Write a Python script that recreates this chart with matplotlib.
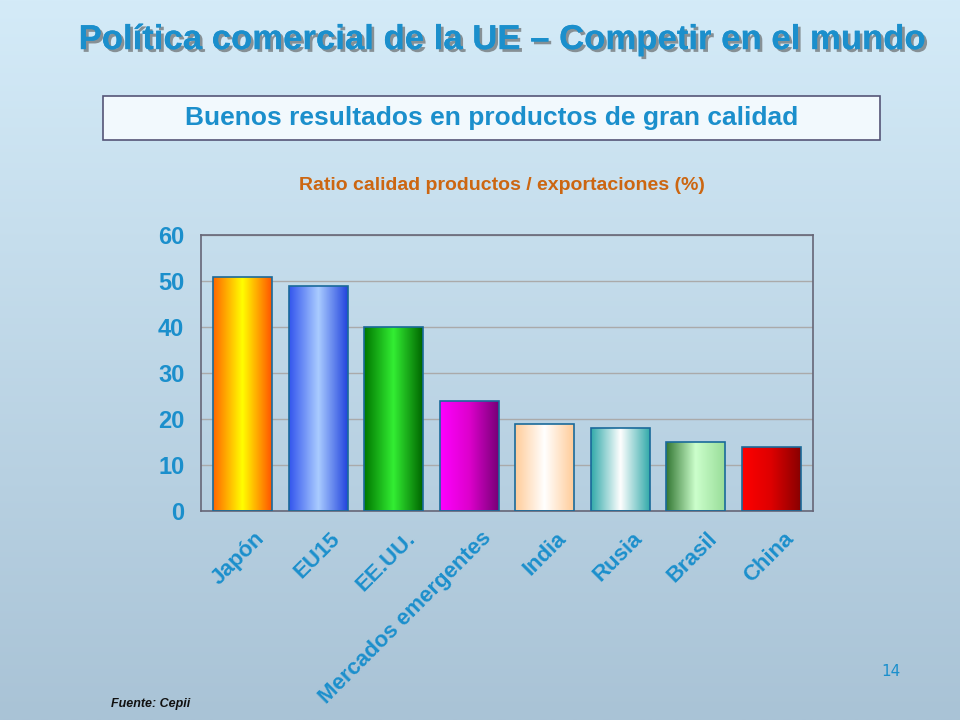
import matplotlib.pyplot as plt
import matplotlib.colors as mcolors
import matplotlib.patheffects as pe
from matplotlib.patches import Rectangle
import numpy as np

plt.rcParams["font.family"] = ["Liberation Sans Narrow", "Liberation Sans", "DejaVu Sans"]

categories = ["Japón", "EU15", "EE.UU.", "Mercados emergentes", "India", "Rusia", "Brasil", "China"]
values = [51, 49, 40, 24, 19, 18, 15, 14]
yticks = [0, 10, 20, 30, 40, 50, 60]

# left / middle / right colours of every bar gradient
bar_grads = [
    ["#ff6600", "#ffff00", "#ff5500"],
    ["#3355ee", "#aaccff", "#2244dd"],
    ["#007700", "#33ee33", "#006600"],
    ["#ff00ff", "#dd00cc", "#770077"],
    ["#ffcc99", "#ffffff", "#ffcc99"],
    ["#33aaaa", "#ffffff", "#33aaaa"],
    ["#337733", "#ccffcc", "#99dd99"],
    ["#ff0000", "#dd0000", "#880000"],
]
blue = "#1b8fcc"

fig = plt.figure(figsize=(9.6, 7.2), dpi=100)

# background gradient
bg = fig.add_axes([0, 0, 1, 1])
bg_cmap = mcolors.LinearSegmentedColormap.from_list("bg", ["#d4ebf8", "#a9c3d6"])
bg.imshow(np.linspace(0, 1, 256).reshape(-1, 1), aspect="auto", cmap=bg_cmap, extent=[0, 1, 0, 1])
bg.set_xlim(0, 1)
bg.set_ylim(0, 1)
bg.axis("off")

# title
fig.text(0.523, 0.945, "Política comercial de la UE – Competir en el mundo", ha="center", va="center",
         fontsize=25, fontweight="bold", color=blue,
         path_effects=[pe.withSimplePatchShadow(offset=(2, -2), shadow_rgbFace="#555555", alpha=0.6), pe.Normal()])

# subtitle box
box = Rectangle((0.107, 0.805), 0.81, 0.061, transform=fig.transFigure, facecolor="#f2f9fd",
                edgecolor="#555577", linewidth=1.2)
fig.patches.append(box)
fig.text(0.512, 0.836, "Buenos resultados en productos de gran calidad", ha="center", va="center",
         fontsize=19, fontweight="bold", color=blue)

fig.text(0.523, 0.743, "Ratio calidad productos / exportaciones (%)", ha="center", va="center",
         fontsize=14, fontweight="bold", color="#cc6611")

ax = fig.add_axes([0.2094, 0.29, 0.6375, 0.383])
ax.set_facecolor("none")
x = np.arange(len(categories))
bars = ax.bar(x, values, width=0.78, facecolor="none", edgecolor="#1a6a9a", linewidth=1.2, zorder=3)
for b, cols in zip(bars, bar_grads):
    cmap = mcolors.LinearSegmentedColormap.from_list("g", cols)
    im = ax.imshow(np.linspace(0, 1, 128).reshape(1, -1), aspect="auto", cmap=cmap,
                   extent=[b.get_x(), b.get_x() + b.get_width(), 0, b.get_height()], zorder=2)
    im.set_clip_path(b)

ax.set_xlim(-0.55, len(categories) - 0.45)
ax.set_ylim(0, 60)
ax.set_yticks(yticks)
ax.set_yticklabels([str(v) for v in yticks], fontsize=17, fontweight="bold", color=blue)
ax.yaxis.grid(True, color="#aaaaaa", linewidth=1)
ax.set_axisbelow(True)
ax.set_xticks(x + 0.15)
ax.set_xticklabels(categories, rotation=45, ha="right", rotation_mode="anchor",
                   fontsize=16, fontweight="bold", color=blue)
ax.tick_params(axis="x", length=0, pad=12)
ax.tick_params(axis="y", length=0, pad=12)
for s in ax.spines.values():
    s.set_color("#666677")
    s.set_linewidth(1.2)

fig.text(0.938, 0.067, "14", ha="right", va="center", fontsize=11, color=blue, family="DejaVu Sans")
fig.text(0.116, 0.022, "Fuente: Cepii", ha="left", va="center", fontsize=9, fontweight="bold",
         style="italic", color="#111111", family="Liberation Sans")

fig.savefig("out.png", dpi=100)
